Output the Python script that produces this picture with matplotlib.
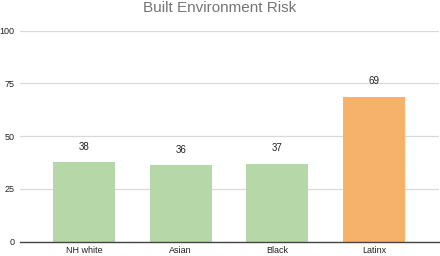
import matplotlib
matplotlib.use("Agg")
import matplotlib.pyplot as plt

categories = ["NH white", "Asian", "Black", "Latinx"]
values = [37.6, 36.2, 36.9, 68.6]
bar_colors = ["#b6d7a8", "#b6d7a8", "#b6d7a8", "#f6b26b"]
yticks = [0, 25, 50, 75, 100]
title = "Built Environment Risk"

plt.rcParams['font.family'] = ['Liberation Sans', 'DejaVu Sans']

fig = plt.figure(figsize=(4.4, 2.56), dpi=100)
ax = fig.add_axes([20/440, 1 - 241.5/256, 419/440, 211/256])

x = list(range(len(categories)))
ax.bar(x, values, width=0.64, color=bar_colors, zorder=2)
for xi, v in zip(x, values):
    ax.text(xi, v + 5.0, f"{round(v)}", ha="center", va="bottom", fontsize=7, color="#222222")

ax.set_xlim(-0.66, 3.67)
ax.set_ylim(0, 100)
ax.set_yticks(yticks)
ax.set_yticklabels([str(t) for t in yticks], fontsize=6.5, color="#222222")
ax.set_xticks(x)
ax.set_xticklabels(categories, fontsize=6.5, color="#222222")
ax.tick_params(axis="both", length=0)
ax.tick_params(axis="y", pad=4)
ax.tick_params(axis="x", pad=3)
ax.grid(axis="y", color="#d9d9d9", linewidth=0.9, zorder=0)
for s in ["top", "right", "left"]:
    ax.spines[s].set_visible(False)
ax.spines["bottom"].set_color("#444444")
ax.spines["bottom"].set_linewidth(1.0)
ax.spines["bottom"].set_zorder(3)

fig.text(0.5, 1 - 8/256, title, ha="center", va="center", fontsize=11, color="#757575")

fig.savefig("out.png", dpi=100)
